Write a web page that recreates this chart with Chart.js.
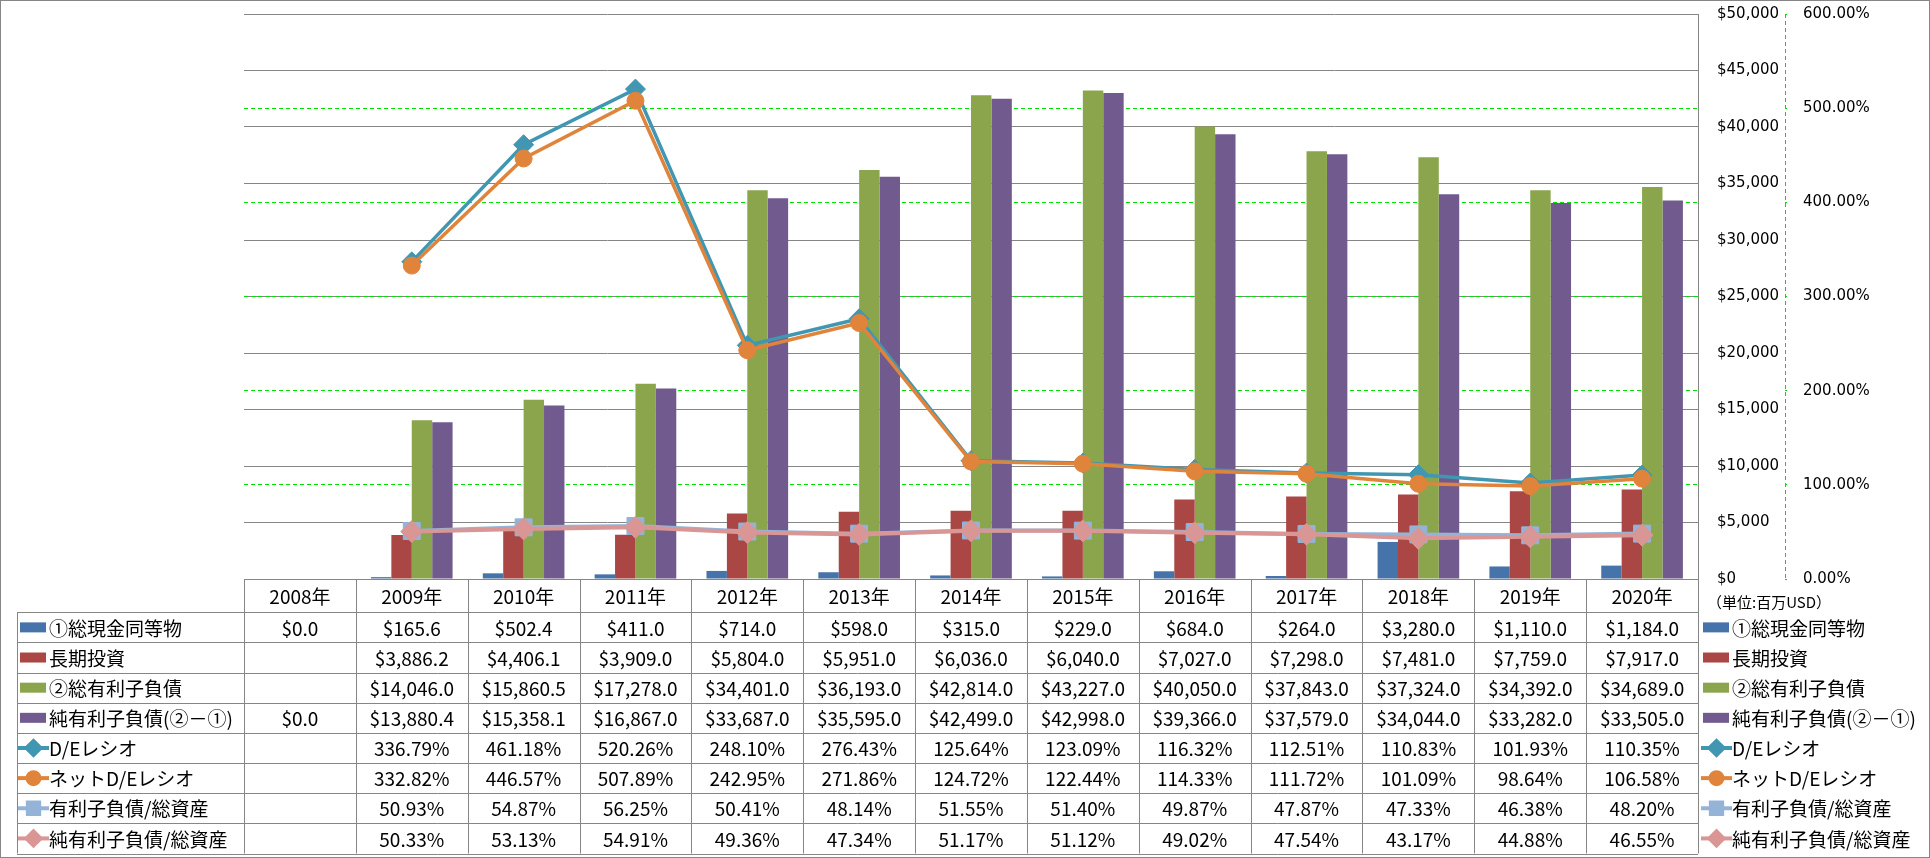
<!DOCTYPE html>
<html><head><meta charset="utf-8">
<script src="https://cdn.jsdelivr.net/npm/chart.js@4.4.1/dist/chart.umd.min.js"></script>
<style>html,body{margin:0;padding:0;background:#fff;}#wrap{width:1930px;height:858px;position:relative;}</style>
</head><body><div id="wrap"><canvas id="c" width="1930" height="858"></canvas></div>
<script>
// ---- data ----
const years = ['2008年','2009年','2010年','2011年','2012年','2013年','2014年','2015年','2016年','2017年','2018年','2019年','2020年'];
const cashEq      = [0, 165.6, 502.4, 411.0, 714.0, 598.0, 315.0, 229.0, 684.0, 264.0, 3280.0, 1110.0, 1184.0];
const longInv     = [null, 3886.2, 4406.1, 3909.0, 5804.0, 5951.0, 6036.0, 6040.0, 7027.0, 7298.0, 7481.0, 7759.0, 7917.0];
const totalDebt   = [null, 14046.0, 15860.5, 17278.0, 34401.0, 36193.0, 42814.0, 43227.0, 40050.0, 37843.0, 37324.0, 34392.0, 34689.0];
const netDebt     = [0, 13880.4, 15358.1, 16867.0, 33687.0, 35595.0, 42499.0, 42998.0, 39366.0, 37579.0, 34044.0, 33282.0, 33505.0];
const deRatio     = [null, 336.79, 461.18, 520.26, 248.10, 276.43, 125.64, 123.09, 116.32, 112.51, 110.83, 101.93, 110.35];
const netDeRatio  = [null, 332.82, 446.57, 507.89, 242.95, 271.86, 124.72, 122.44, 114.33, 111.72, 101.09, 98.64, 106.58];
const debtAssets  = [null, 50.93, 54.87, 56.25, 50.41, 48.14, 51.55, 51.40, 49.87, 47.87, 47.33, 46.38, 48.20];
const netDebtAssets = [null, 50.33, 53.13, 54.91, 49.36, 47.34, 51.17, 51.12, 49.02, 47.54, 43.17, 44.88, 46.55];
const seriesNames = ['①総現金同等物','長期投資','②総有利子負債','純有利子負債(②－①)','D/Eレシオ','ネットD/Eレシオ','有利子負債/総資産','純有利子負債/総資産'];
const usdAxisMax = 50000, usdAxisStep = 5000;
const pctAxisMax = 600, pctAxisStep = 100;
const unitLabel = '（単位:百万USD）';

// ---- styles ----
const C = {blue:'#4674AA', red:'#AA4644', green:'#8AA54C', purple:'#705A8E', teal:'#4197B2', orange:'#E0843C', lblue:'#95B3D7', pink:'#D99694'};
const GRAY = '#868686', LIME = '#00E000';
const TFONT = '19px "Liberation Sans Narrow", "Noto Sans CJK JP", sans-serif';

const fmtUsd = v => v == null ? '' : '$' + v.toLocaleString('en-US',{minimumFractionDigits:1, maximumFractionDigits:1});
const fmtPct = v => v == null ? '' : v.toFixed(2) + '%';

const rows = [
  {name: seriesNames[0], data: cashEq, fmt: fmtUsd, key:{type:'bar', color:C.blue}},
  {name: seriesNames[1], data: longInv, fmt: fmtUsd, key:{type:'bar', color:C.red}},
  {name: seriesNames[2], data: totalDebt, fmt: fmtUsd, key:{type:'bar', color:C.green}},
  {name: seriesNames[3], data: netDebt, fmt: fmtUsd, key:{type:'bar', color:C.purple}},
  {name: seriesNames[4], data: deRatio, fmt: fmtPct, key:{type:'line', color:C.teal, style:'rectRot', r:7}},
  {name: seriesNames[5], data: netDeRatio, fmt: fmtPct, key:{type:'line', color:C.orange, style:'circle', r:6}},
  {name: seriesNames[6], data: debtAssets, fmt: fmtPct, key:{type:'line', color:C.lblue, style:'rect', r:8}},
  {name: seriesNames[7], data: netDebtAssets, fmt: fmtPct, key:{type:'line', color:C.pink, style:'rectRot', r:7}},
];

function drawKey(ctx, key, x, y){
  ctx.save();
  if (key.type === 'bar'){
    ctx.fillStyle = key.color;
    ctx.fillRect(x, y - 5, 26, 10);
  } else {
    ctx.strokeStyle = key.color; ctx.lineWidth = 4;
    ctx.beginPath(); ctx.moveTo(x - 2, y); ctx.lineTo(x + 29, y); ctx.stroke();
    ctx.fillStyle = key.color; ctx.strokeStyle = key.color;
    Chart.helpers.drawPoint(ctx, {pointStyle:key.style, radius:key.r, rotation:0, borderWidth:1}, x + 13.5, y);
  }
  ctx.restore();
}

const tablePlugin = {
  id: 'dataTable',
  afterDraw(chart){
    const {ctx, chartArea, scales} = chart;
    const x = scales.x, y1 = scales.y1;
    const n = years.length;
    const colW = (x.right - x.left) / n;
    const top = chartArea.bottom, headH = 33.3, rowH = 30.15;
    const tLeft = 17, tRight = x.right;
    const bottom = top + headH + rowH * rows.length;
    ctx.save();
    // dashed secondary axis line
    ctx.strokeStyle = LIME; ctx.lineWidth = 1; ctx.setLineDash([4,3]);
    ctx.beginPath(); ctx.moveTo(Math.round(y1.left) + 0.5, chartArea.top); ctx.lineTo(Math.round(y1.left) + 0.5, chartArea.bottom); ctx.stroke();
    ctx.setLineDash([]);
    // grid of table
    ctx.strokeStyle = GRAY; ctx.lineWidth = 1;
    ctx.beginPath();
    const hy = v => Math.round(v) + 0.5;
    ctx.moveTo(x.left, hy(top)); ctx.lineTo(tRight, hy(top));
    for (let r = 0; r <= rows.length; r++){
      const yy = hy(top + headH + rowH * r);
      ctx.moveTo(tLeft, yy); ctx.lineTo(tRight, yy);
    }
    for (let i = 0; i <= n; i++){
      const xx = hy(x.left + colW * i);
      ctx.moveTo(xx, top); ctx.lineTo(xx, bottom);
    }
    ctx.moveTo(hy(tLeft), top + headH); ctx.lineTo(hy(tLeft), bottom);
    ctx.stroke();
    // header
    ctx.font = TFONT; ctx.fillStyle = '#000'; ctx.textBaseline = 'middle'; ctx.textAlign = 'center';
    for (let i = 0; i < n; i++){
      ctx.fillText(years[i], x.getPixelForValue(i), top + headH / 2 + 1);
    }
    // rows
    rows.forEach((row, r) => {
      const cy = top + headH + rowH * r + rowH / 2 + 1;
      ctx.textAlign = 'center'; ctx.fillStyle = '#000'; ctx.font = TFONT;
      row.data.forEach((v, i) => { ctx.fillText(row.fmt(v), x.getPixelForValue(i), cy); });
      drawKey(ctx, row.key, 20, cy - 1);
      ctx.textAlign = 'left'; ctx.fillStyle = '#000'; ctx.font = TFONT;
      ctx.fillText(row.name, 49, cy);
      // right legend
      drawKey(ctx, row.key, 1703, cy - 1);
      ctx.textAlign = 'left'; ctx.fillStyle = '#000'; ctx.font = TFONT;
      ctx.fillText(row.name, 1732, cy);
    });
    // unit label
    ctx.font = '15px "Noto Sans CJK JP", sans-serif'; ctx.textAlign = 'left';
    ctx.fillText(unitLabel, 1707, top + 23);
    // outer border
    ctx.strokeStyle = GRAY; ctx.lineWidth = 1;
    ctx.strokeRect(0.5, 0.5, chart.width - 1, chart.height - 1);
    ctx.restore();
  }
};

const barDs = (label, data, color, order) => ({type:'bar', label, data, backgroundColor:color, borderWidth:0, yAxisID:'y', categoryPercentage:0.73, barPercentage:1.0, order});
const lineDs = (label, data, color, style, r, w, order) => ({type:'line', label, data, borderColor:color, backgroundColor:color, borderWidth:w, pointStyle:style, pointRadius:r, pointHoverRadius:r, pointBorderWidth:1, pointBackgroundColor:color, pointBorderColor:color, yAxisID:'y1', tension:0, order});

new Chart(document.getElementById('c'), {
  data: {
    labels: years,
    datasets: [
      barDs(seriesNames[0], cashEq, C.blue, 10),
      barDs(seriesNames[1], longInv, C.red, 11),
      barDs(seriesNames[2], totalDebt, C.green, 12),
      barDs(seriesNames[3], netDebt, C.purple, 13),
      lineDs(seriesNames[4], deRatio, C.teal, 'rectRot', 10, 3.5, 4),
      lineDs(seriesNames[5], netDeRatio, C.orange, 'circle', 8.5, 3.5, 3),
      lineDs(seriesNames[6], debtAssets, C.lblue, 'rect', 12, 4, 2),
      lineDs(seriesNames[7], netDebtAssets, C.pink, 'rectRot', 11, 4, 1),
    ]
  },
  options: {
    responsive:false, animation:false, devicePixelRatio:1,
    layout:{padding:{left:244, right:0, top:14, bottom:279}},
    plugins:{legend:{display:false}, tooltip:{enabled:false}},
    scales:{
      x:{type:'category', display:false, offset:true, grid:{display:false}},
      y:{position:'right', min:0, max:usdAxisMax,
         ticks:{stepSize:usdAxisStep, padding:19, color:'#000', font:{family:'"DejaVu Sans"', size:15},
                callback:v => '$' + Number(v).toLocaleString('en-US')},
         grid:{color:GRAY, lineWidth:1, drawTicks:false},
         border:{display:true, color:GRAY, width:1},
         afterFit(s){ s.width = 87; s.paddingTop = 0; s.paddingBottom = 0; }},
      y1:{position:'right', min:0, max:pctAxisMax,
         ticks:{stepSize:pctAxisStep, padding:14, color:'#000', font:{family:'"DejaVu Sans"', size:15},
                callback:v => Number(v).toFixed(2) + '%'},
         grid:{color:ctx => (ctx.tick && (ctx.tick.value === 0 || ctx.tick.value === pctAxisMax)) ? 'rgba(0,0,0,0)' : LIME,
               lineWidth:1, drawTicks:true, tickLength:4, tickColor:LIME, tickBorderDash:[2,2]},
         border:{display:false, dash:[4,3]},
         afterFit(s){ s.width = 145; s.paddingTop = 0; s.paddingBottom = 0; }}
    }
  },
  plugins:[tablePlugin]
});
</script></body></html>
